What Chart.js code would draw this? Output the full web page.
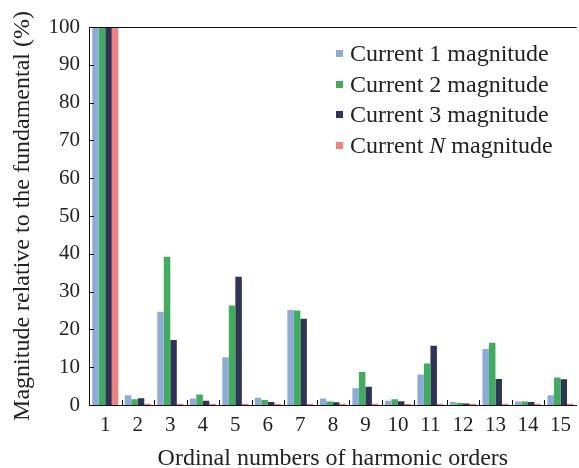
<!DOCTYPE html>
<html>
<head>
<meta charset="utf-8">
<script src="https://cdn.jsdelivr.net/npm/chart.js@4/dist/chart.umd.min.js"></script>
<style>
    html, body { margin: 0; padding: 0; background: #fff; }
    #wrap { position: relative; width: 579px; height: 468px; }
    #legend {
        position: absolute; left: 333px; top: 38px;
        font-family: "Liberation Serif", serif; font-size: 24px; color: #222;
        line-height: 30.7px;
    }
    #legend .row { display: flex; align-items: center; white-space: nowrap; }
    #legend .box { width: 7px; height: 7px; margin-right: 7px; margin-left: 3px; }
</style>
</head>
<body>
<div id="wrap">
    <canvas id="harmonics" width="579" height="468"></canvas>
    <div id="legend"></div>
</div>
<script>
// harmonic orders
const orders = ["1", "2", "3", "4", "5", "6", "7", "8", "9", "10", "11", "12", "13", "14", "15"];

// magnitudes relative to fundamental (%)
const current1 = [100, 2.6, 24.7, 1.7, 12.6, 1.9, 25.1, 1.7, 4.4, 1.1, 8.1, 0.8, 14.8, 0.9, 2.6];
const current2 = [100, 1.5, 39.2, 2.8, 26.3, 1.3, 25.0, 0.9, 8.7, 1.5, 11.0, 0.5, 16.5, 0.9, 7.3];
const current3 = [100, 1.8, 17.2, 1.1, 33.9, 0.8, 22.8, 0.7, 4.8, 1.0, 15.7, 0.4, 6.9, 0.8, 6.8];
const currentN = [100, 0.3, 0.3, 0.3, 0.3, 0.3, 0.3, 0.3, 0.3, 0.3, 0.3, 0.3, 0.3, 0.3, 0.3];

const yTicks = [0, 10, 20, 30, 40, 50, 60, 70, 80, 90, 100];

const seriesNames = ["Current 1 magnitude", "Current 2 magnitude", "Current 3 magnitude", "Current <i>N</i> magnitude"];
const seriesColors = ["#8eaad8", "#3fae5c", "#2f3357", "#f3807f"];

const serif = "'Liberation Serif', 'Times New Roman', serif";

// legend in html so the N can be italic
$legend = document.getElementById("legend");
seriesNames.forEach((name, i) => {
    $legend.innerHTML += `<div class="row"><span class="box" style="background:${seriesColors[i]}"></span><span>${name}</span></div>`;
});

// frame line on top + inward tick marks
const framePlugin = {
    id: "frame",
    afterDraw(chart) {
        const ctx = chart.ctx;
        const area = chart.chartArea;
        const x = chart.scales.x;
        const y = chart.scales.y;
        ctx.save();
        ctx.strokeStyle = "#111";
        ctx.lineWidth = 1;
        ctx.beginPath();
        ctx.moveTo(area.left, Math.round(area.top) + 0.5);
        ctx.lineTo(area.right, Math.round(area.top) + 0.5);
        // y ticks pointing right
        yTicks.forEach(v => {
            const py = Math.round(y.getPixelForValue(v)) + 0.5;
            ctx.moveTo(area.left, py);
            ctx.lineTo(area.left + 5, py);
        });
        // x ticks between categories, pointing up
        const step = (area.right - area.left) / orders.length;
        for (let i = 1; i < orders.length; i++) {
            const px = Math.round(x.getPixelForValue(i) - step / 2) + 0.5;
            ctx.moveTo(px, area.bottom);
            ctx.lineTo(px, area.bottom - 5);
        }
        ctx.stroke();
        ctx.restore();
    }
};

const ctx = document.getElementById("harmonics").getContext("2d");
new Chart(ctx, {
    type: "bar",
    data: {
        labels: orders,
        datasets: [
            { label: "Current 1 magnitude", data: current1, backgroundColor: seriesColors[0] },
            { label: "Current 2 magnitude", data: current2, backgroundColor: seriesColors[1] },
            { label: "Current 3 magnitude", data: current3, backgroundColor: seriesColors[2] },
            { label: "Current N magnitude", data: currentN, backgroundColor: seriesColors[3] }
        ]
    },
    options: {
        responsive: false,
        animation: false,
        devicePixelRatio: 1,
        layout: { padding: { top: 27, right: 0, left: 0, bottom: 0 } },
        datasets: { bar: { categoryPercentage: 0.8, barPercentage: 1.0 } },
        plugins: {
            legend: { display: false },
            tooltip: { enabled: false }
        },
        scales: {
            x: {
                grid: { display: false, drawTicks: false },
                border: { color: "#111", width: 1 },
                ticks: { color: "#222", font: { family: serif, size: 21 }, padding: 8 },
                title: {
                    display: true,
                    text: "Ordinal numbers of harmonic orders",
                    color: "#222",
                    font: { family: serif, size: 24, lineHeight: 1.1 },
                    padding: { top: 0, bottom: -4 }
                },
                afterFit(scale) { scale.height = 63; }
            },
            y: {
                min: 0,
                max: 100,
                grid: { display: false, drawTicks: false },
                border: { color: "#111", width: 1 },
                ticks: { stepSize: 10, color: "#222", font: { family: serif, size: 21 }, padding: 9 },
                title: {
                    display: true,
                    text: "Magnitude relative to the fundamental (%)",
                    color: "#222",
                    font: { family: serif, size: 24, lineHeight: 1.1 },
                    padding: { top: 10, bottom: 0 }
                },
                afterFit(scale) { scale.width = 89; }
            }
        }
    },
    plugins: [framePlugin]
});
</script>
</body>
</html>
